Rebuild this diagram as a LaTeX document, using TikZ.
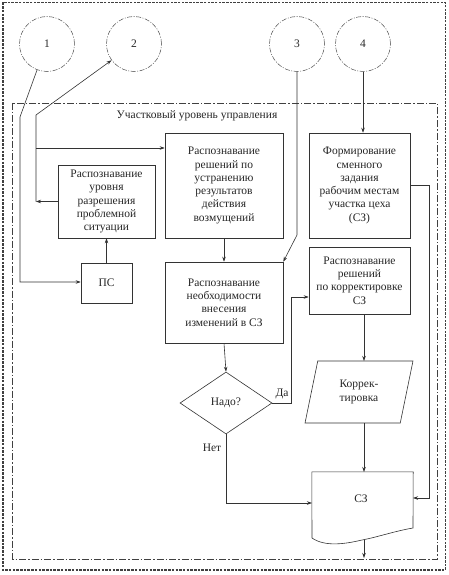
\documentclass[tikz,border=0pt]{standalone}
\usepackage{fontspec}
\setmainfont{Liberation Serif}
\usetikzlibrary{shapes.geometric,arrows.meta}
\begin{document}
\begin{tikzpicture}[x=1pt,y=-1pt,
  every node/.style={font=\fontsize{11.5}{13.3}\selectfont, text=black!85},
  line/.style={draw=black!80, line width=0.6pt},
  arr/.style={line, -{Stealth[length=5pt,width=3.5pt]}},
  box/.style={line, rectangle, align=center, inner sep=1pt},
  circ/.style={draw=black!70, line width=0.5pt, circle, minimum size=55pt, inner sep=0pt, dash pattern=on 5pt off 1.5pt on 1pt off 1.5pt}]
\useasboundingbox (0,0) rectangle (448,575);
% borders
\draw[black!75, line width=1.1pt, dash pattern=on 2.5pt off 1.2pt] (3,2.5) rectangle (445.5,570);
\draw[black!75, line width=0.7pt, dash pattern=on 7pt off 2pt on 1.5pt off 2pt] (12.5,103) rectangle (437,559);
% circles
\node[circ] (c1) at (47,44) {1};
\node[circ] (c2) at (134,44) {2};
\node[circ] (c3) at (297,44) {3};
\node[circ] (c4) at (363,44) {4};
\node (title) at (197,116) {Участковый уровень управления};
% boxes
\node[box, minimum width=118pt, minimum height=105pt] (rs) at (224,185.5) {Распознавание\\решений по\\устранению\\результатов\\действия\\возмущений};
\node[box, minimum width=97pt, minimum height=73pt] (lvl) at (106.5,201.5) {Распознавание\\уровня\\разрешения\\проблемной\\ситуации};
\node[box, minimum width=51pt, minimum height=40pt] (ps) at (106.5,283) {ПС};
\node[box, minimum width=118pt, minimum height=81pt] (nb) at (224,302.5) {Распознавание\\необходимости\\внесения\\изменений в СЗ};
\node[box, minimum width=101pt, minimum height=105pt] (form) at (359.5,185.5) {Формирование\\сменного\\задания\\рабочим местам\\участка цеха\\(СЗ)};
\node[box, minimum width=101pt, minimum height=67pt] (korr) at (359.5,280.5) {Распознавание\\решений\\по корректировке\\СЗ};
\node[line, trapezium, trapezium left angle=76, trapezium right angle=104, trapezium stretches=true, minimum width=108pt, minimum height=62pt, align=center, inner sep=1pt] (par) at (359,392) {Коррек-\\тировка};
\node[line, diamond, aspect=1.48, minimum width=92pt, minimum height=62pt, inner sep=0pt] (dia) at (226,403) {Надо?};
% document shape
\node[minimum width=101pt, minimum height=66pt, inner sep=0pt] (doc) at (362.5,505) {};
\node at (361,499) {СЗ};
\draw[line] (doc.north west) -- (doc.north east) -- (413,528)
  .. controls (395,531) and (378,537) .. (362,540)
  .. controls (345,544) and (325,547) .. (312,538) -- cycle;
\coordinate (docb) at (364,540);
% labels
\node[anchor=west] (yes) at (272,394) {Да};
\node (no) at (212,448) {Нет};
% connectors
\draw[arr] (c1.-111) -- (20,117) -- (20,282) -- (ps.west |- 0,282);
\draw[arr] (ps.north) -- (lvl.south);
\draw[arr] (lvl.west) -- (36,201.5);
\coordinate (j1) at (36,201.5);
\draw[arr] (j1) -- (36,115) -- (c2);
\draw[arr] (36,148) -- (rs.west |- 0,148);
\draw[arr] (rs.south) -- (nb.north);
\draw[arr] (c3.south) -- (297,235) -- (nb.north east);
\draw[arr] (c4.south) -- (c4.south |- form.north);
\draw[arr] (form.east) -- (429,185.5) -- (429,498) -- (413,498);
\draw[arr] (nb.south) -- (dia.north);
\draw[arr] (dia.east) -- (291,403) -- (291,297) -- (korr.west |- 0,297);
\draw[arr] (dia.south) -- (226,503) -- (312,503);
\draw[arr] (korr.south -| 364,0) -- (364,361);
\draw[arr] (364,423) -- (364,472);
\draw[arr] (docb) -- (364,558);
\end{tikzpicture}
\end{document}
